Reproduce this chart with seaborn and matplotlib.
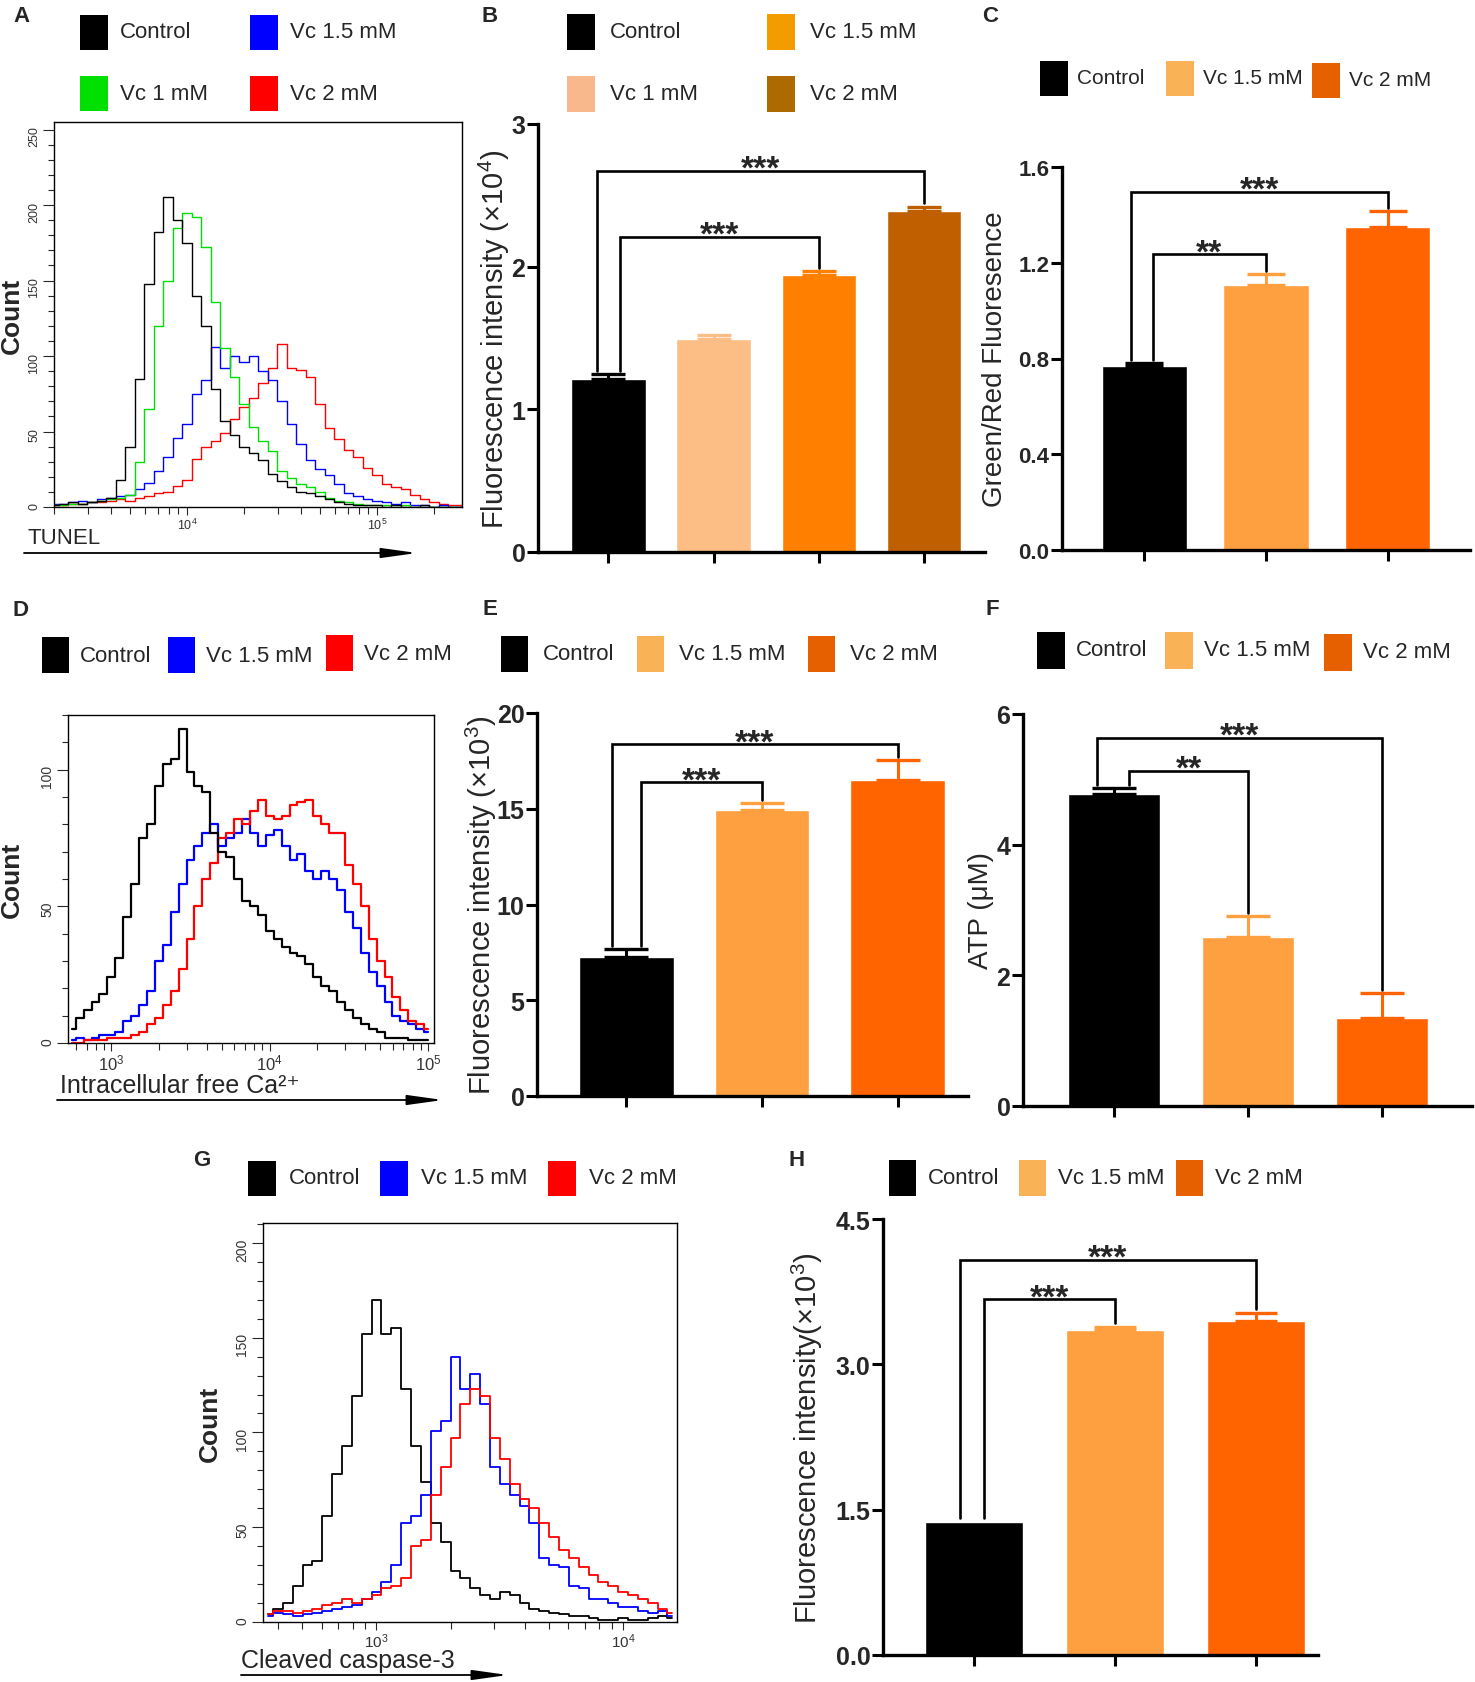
import numpy as np
import pandas as pd
import seaborn as sns
import matplotlib.pyplot as plt
from matplotlib.patches import Rectangle
from matplotlib.ticker import MultipleLocator, LogLocator, NullFormatter

# ---------------- data ----------------
# A: TUNEL flow histograms (log10 channel, counts)
tunel_log = np.round(np.arange(3.30, 5.451, 0.05), 2)
tunel_control = [1, 2, 3, 2, 3, 4, 6, 18, 40, 85,
                 148, 182, 205, 190, 175, 140, 120, 78, 57, 48,
                 40, 36, 31, 22, 17, 13, 10, 9, 7, 5,
                 3, 2, 1, 1, 1, 0, 1, 0, 0, 1,
                 0, 0, 0, 0]
tunel_vc1 = [1, 1, 2, 2, 3, 4, 5, 6, 8, 30,
             65, 120, 150, 185, 195, 192, 172, 136, 105, 86,
             68, 53, 44, 37, 24, 19, 15, 13, 10, 6,
             4, 3, 2, 1, 1, 1, 0, 1, 0, 0,
             0, 0, 0, 0]
tunel_vc15 = [2, 2, 3, 4, 3, 5, 6, 7, 8, 12,
              16, 24, 33, 46, 55, 75, 84, 106, 92, 100,
              96, 100, 90, 84, 70, 55, 42, 31, 25, 21,
              15, 9, 7, 5, 4, 3, 2, 3, 1, 1,
              0, 1, 0, 0]
tunel_vc2 = [1, 1, 2, 2, 3, 3, 4, 5, 4, 6,
             7, 9, 10, 14, 18, 32, 40, 44, 49, 58,
             66, 72, 82, 92, 108, 92, 91, 86, 68, 52,
             45, 38, 33, 26, 21, 15, 13, 12, 8, 5,
             3, 2, 1, 1]

# B: fluorescence intensity (x10^4)
ros_groups = ["Control", "Vc 1 mM", "Vc 1.5 mM", "Vc 2 mM"]
ros_mean = [1.21, 1.49, 1.94, 2.39]
ros_sem = [0.035, 0.03, 0.03, 0.03]

# C: green/red fluorescence
groups3 = ["Control", "Vc 1.5 mM", "Vc 2 mM"]
mmp_mean = [0.77, 1.107, 1.35]
mmp_sem = [0.012, 0.044, 0.067]

# D: intracellular Ca2+ histograms
ca_log = np.round(np.arange(2.75, 5.001, 0.05), 2)
ca_control = [5, 9, 12, 15, 18, 24, 31, 46, 58, 75,
              80, 94, 102, 104, 115, 99, 94, 92, 77, 70,
              68, 60, 52, 50, 47, 41, 38, 35, 33, 32,
              29, 24, 21, 19, 15, 12, 9, 7, 5, 4,
              2, 2, 2, 1, 1, 1]
ca_vc15 = [1, 2, 1, 2, 3, 3, 4, 8, 10, 14,
           19, 30, 36, 48, 58, 67, 72, 77, 80, 72,
           75, 77, 82, 77, 72, 76, 78, 72, 67, 69,
           63, 60, 63, 60, 56, 48, 42, 33, 26, 21,
           15, 10, 8, 7, 5, 4]
ca_vc2 = [0, 0, 1, 1, 1, 2, 2, 2, 3, 4,
          7, 9, 14, 19, 27, 38, 50, 60, 66, 75,
          77, 82, 80, 85, 89, 83, 82, 83, 87, 88,
          89, 83, 80, 77, 77, 65, 58, 50, 38, 30,
          24, 17, 12, 8, 7, 5]

# E: Ca2+ fluorescence intensity (x10^3)
caf_mean = [7.24, 14.94, 16.51]
caf_sem = [0.43, 0.37, 1.03]

# F: ATP (uM)
atp_mean = [4.775, 2.58, 1.35]
atp_sem = [0.085, 0.33, 0.38]

# G: cleaved caspase-3 histograms
casp_log = np.round(np.arange(2.56, 4.201, 0.04), 2)
casp_control = [4, 7, 10, 19, 30, 32, 56, 78, 93, 119,
                152, 170, 152, 155, 123, 93, 74, 52, 42, 27,
                23, 18, 14, 12, 16, 14, 10, 7, 6, 5,
                4, 3, 3, 2, 1, 1, 2, 1, 1, 2,
                3, 2]
casp_vc15 = [3, 5, 4, 3, 4, 5, 6, 7, 8, 9,
             12, 16, 21, 30, 52, 56, 67, 101, 106, 140,
             123, 131, 115, 82, 73, 67, 61, 52, 34, 30,
             29, 19, 18, 12, 12, 10, 8, 8, 6, 5,
             6, 3]
casp_vc2 = [4, 6, 6, 5, 6, 7, 9, 10, 12, 10,
            12, 14, 18, 19, 23, 40, 43, 67, 82, 97,
            115, 123, 119, 97, 86, 73, 65, 60, 52, 45,
            38, 34, 29, 25, 21, 19, 16, 14, 12, 10,
            7, 5]

# H: caspase-3 fluorescence intensity (x10^3)
cf_mean = [1.373, 3.35, 3.45]
cf_sem = [0.0, 0.04, 0.08]

# ---------------- style ----------------
sns.set_theme(style="ticks")
plt.rcParams["font.family"] = ["Liberation Sans", "DejaVu Sans"]
plt.rcParams["mathtext.default"] = "regular"
SANS = ["Liberation Sans", "DejaVu Sans"]

BLACK, GREEN, BLUE, RED = "#000000", "#00E000", "#0000FF", "#FF0000"
bar_b = ["#000000", "#FDBE86", "#FF8000", "#C05F00"]
leg_b = ["#000000", "#F8B88B", "#F29C00", "#AD6A00"]
bar3 = ["#000000", "#FFA040", "#FF6400"]
leg3 = ["#000000", "#F9B356", "#E66000"]

W, H = 1475, 1683
fig = plt.figure(figsize=(W / 100, H / 100), dpi=100)


def fx(x):
    return x / W


def fy(y):
    return 1 - y / H


def axes_px(left, top, right, bottom):
    return fig.add_axes([fx(left), fy(bottom), (right - left) / W, (bottom - top) / H])


def legend(entries, sq=(28, 35), size=16, gap=12):
    for x, y, color, label in entries:
        fig.patches.append(Rectangle((fx(x), fy(y + sq[1] / 2)), sq[0] / W, sq[1] / H,
                                     transform=fig.transFigure, facecolor=color,
                                     edgecolor="none"))
        fig.text(fx(x + sq[0] + gap), fy(y), label, fontsize=size, family=SANS,
                 va="center", ha="left")


def panel_letter(x, y, s):
    fig.text(fx(x), fy(y), s, fontsize=16, fontweight="bold", ha="center", va="center")


def axis_arrow(x1, x2, y):
    fig.add_artist(plt.Annotation("", xy=(fx(x2), fy(y)), xytext=(fx(x1), fy(y)),
                                  xycoords="figure fraction", textcoords="figure fraction",
                                  arrowprops=dict(arrowstyle="-|>,head_length=1.8,head_width=0.25",
                                                  color="black", lw=1.3, shrinkA=0, shrinkB=0)))


def histogram(rect, log_x, curves, xlog, ymax, label_right, ytick_size, xtick_size, lw):
    left, top, right, bottom = rect
    ax = axes_px(left, top, right, bottom)
    ax.set_xscale("log")
    x = 10 ** np.asarray(log_x)
    for counts, color in curves:
        sns.lineplot(x=x, y=counts, color=color, lw=lw, drawstyle="steps-mid",
                     ax=ax, legend=False)
    ax.set_xlim(10 ** xlog[0], 10 ** xlog[1])
    ax.set_ylim(0, ymax)
    ax.yaxis.set_major_locator(MultipleLocator(50))
    ax.yaxis.set_minor_locator(MultipleLocator(10))
    ax.xaxis.set_major_locator(LogLocator(base=10))
    ax.xaxis.set_minor_locator(LogLocator(base=10, subs=np.arange(2, 10)))
    ax.xaxis.set_minor_formatter(NullFormatter())
    for s in ax.spines.values():
        s.set_linewidth(1.0)
        s.set_color("black")
    ax.tick_params(axis="y", which="major", direction="out", length=8, width=0.8,
                   labelrotation=90, labelsize=ytick_size, pad=2, labelcolor="#333333")
    ax.tick_params(axis="y", which="minor", direction="out", length=4, width=0.8)
    ax.tick_params(axis="x", which="major", direction="out", length=6, width=0.8,
                   labelsize=xtick_size, pad=1, labelcolor="#333333")
    ax.tick_params(axis="x", which="minor", direction="out", length=5, width=0.8)
    ax.set_xlabel("")
    ax.set_ylabel("Count", fontsize=19, fontweight="bold")
    ax.yaxis.set_label_coords((label_right - left) / (right - left), 0.5)
    return ax


def bar_panel(rect, groups, means, sems, colors, ymax, ystep, fmt, ylabel, label_right,
              margins, width, capsize, brackets, leg_offsets, label_size=21, tick_size=18):
    left, top, right, bottom = rect
    ax = axes_px(left, top, right, bottom)
    df = pd.DataFrame({"group": groups, "value": means})
    sns.barplot(data=df, x="group", y="value", hue="group", palette=colors, width=width,
                saturation=1, legend=False, errorbar=None, ax=ax, zorder=2)
    for i, (m, s, c) in enumerate(zip(means, sems, colors)):
        if s > 0:
            ax.errorbar(i, m, yerr=[[0], [s]], fmt="none", ecolor=c, elinewidth=2.2,
                        capsize=capsize, capthick=2.4, zorder=3)
    pad = 0.008 * ymax
    for (i, j, level, stars), off in zip(brackets, leg_offsets):
        xi = i + off
        ax.plot([xi, xi, j, j],
                [means[i] + sems[i] + pad, level, level, means[j] + sems[j] + pad],
                color="black", lw=1.9, solid_joinstyle="miter", zorder=4)
        ax.annotate(stars, xy=((xi + j) / 2, level), xytext=(0, -5),
                    textcoords="offset points", ha="center", va="baseline",
                    fontsize=24, fontweight="bold")
    n = len(groups)
    ax.set_xlim(-margins[0], n - 1 + margins[1])
    ax.set_ylim(0, ymax)
    ticks = np.arange(0, ymax + ystep / 2, ystep)
    ax.set_yticks(ticks, labels=[fmt.format(t) for t in ticks], fontsize=tick_size,
                  fontweight="bold", family=SANS)
    ax.set_xticks(range(n), labels=[""] * n)
    ax.tick_params(axis="both", direction="out", length=8, width=2.2, color="black", pad=1)
    sns.despine(ax=ax)
    for s in ("left", "bottom"):
        ax.spines[s].set_linewidth(2.4)
        ax.spines[s].set_color("black")
    ax.set_xlabel("")
    ax.set_ylabel(ylabel, fontsize=label_size)
    ax.yaxis.set_label_coords((label_right - left) / (right - left), 0.5)
    return ax


# ---------------- A ----------------
panel_letter(21, 16, "A")
legend([(80, 33, BLACK, "Control"), (250, 33, BLUE, "Vc 1.5 mM"),
        (80, 94, GREEN, "Vc 1 mM"), (250, 94, RED, "Vc 2 mM")])
histogram((54, 123, 462, 508), tunel_log,
          [(tunel_vc2, RED), (tunel_vc15, BLUE), (tunel_vc1, GREEN), (tunel_control, BLACK)],
          (3.30, 5.447), 255, 24, 9, 9, 1.0)
fig.text(fx(27), fy(538), "TUNEL", fontsize=16, va="center", ha="left")
axis_arrow(24, 417, 554)

# ---------------- B ----------------
panel_letter(490, 16, "B")
legend([(567, 33, leg_b[0], "Control"), (767, 33, leg_b[2], "Vc 1.5 mM"),
        (567, 95, leg_b[1], "Vc 1 mM"), (767, 95, leg_b[3], "Vc 2 mM")], sq=(28, 36), gap=15)
bar_panel((538, 125, 985, 553), ros_groups, ros_mean, ros_sem, bar_b, 3, 1, "{:.0f}",
          "Fluorescence intensity (×10$^{4}$)", 512, (0.67, 0.58), 0.707, 12,
          [(0, 2, 2.21, "***"), (0, 3, 2.67, "***")], [0.11, -0.11])

# ---------------- C ----------------
panel_letter(990, 16, "C")
legend([(1040, 79, leg3[0], "Control"), (1166, 79, leg3[1], "Vc 1.5 mM"),
        (1312, 81, leg3[2], "Vc 2 mM")], sq=(28, 35), size=15, gap=9)
bar_panel((1062, 168, 1470, 551), groups3, mmp_mean, mmp_sem, bar3, 1.6, 0.4, "{:.1f}",
          "Green/Red Fluoresence", 1008, (0.675, 0.675), 0.70, 14,
          [(0, 1, 1.235, "**"), (0, 2, 1.496, "***")], [0.07, -0.11],
          label_size=20, tick_size=16)

# ---------------- D ----------------
panel_letter(21, 611, "D")
legend([(42, 656, BLACK, "Control"), (168, 656, BLUE, "Vc 1.5 mM"),
        (326, 654, RED, "Vc 2 mM")], sq=(27, 36), gap=11)
histogram((68, 716, 434, 1044), ca_log,
          [(ca_vc15, BLUE), (ca_vc2, RED), (ca_control, BLACK)],
          (2.727, 5.038), 120, 24, 10, 12, 1.6)
fig.text(fx(60), fy(1086), "Intracellular free Ca²⁺", fontsize=18, va="center", ha="left",
         family=SANS)
axis_arrow(57, 443, 1101)

# ---------------- E ----------------
panel_letter(490, 610, "E")
legend([(501, 655, leg3[0], "Control"), (637, 655, leg3[1], "Vc 1.5 mM"),
        (808, 655, leg3[2], "Vc 2 mM")], sq=(27, 36), gap=15)
bar_panel((537, 714, 968, 1097), groups3, caf_mean, caf_sem, bar3, 20, 5, "{:.0f}",
          "Fluorescence intensity (×10$^{3}$)", 499, (0.66, 0.52), 0.695, 16,
          [(0, 1, 16.39, "***"), (0, 2, 18.36, "***")], [0.11, -0.11])

# ---------------- F ----------------
panel_letter(992, 610, "F")
legend([(1037, 651, leg3[0], "Control"), (1165, 651, leg3[1], "Vc 1.5 mM"),
        (1324, 653, leg3[2], "Vc 2 mM")], sq=(28, 37), gap=11)
bar_panel((1023, 715, 1472, 1107), groups3, atp_mean, atp_sem, bar3, 6, 2, "{:.0f}",
          "ATP (μM)", 994, (0.68, 0.67), 0.69, 16,
          [(0, 1, 5.13, "**"), (0, 2, 5.64, "***")], [0.11, -0.13], label_size=20)

# ---------------- G ----------------
panel_letter(202, 1160, "G")
legend([(248, 1179, BLACK, "Control"), (380, 1179, BLUE, "Vc 1.5 mM"),
        (548, 1179, RED, "Vc 2 mM")], sq=(28, 35), gap=13)
histogram((263, 1224, 677, 1623), casp_log,
          [(casp_control, BLACK), (casp_vc15, BLUE), (casp_vc2, RED)],
          (2.54, 4.219), 210.5, 222, 10, 11, 1.3)
fig.text(fx(241), fy(1661), "Cleaved caspase-3", fontsize=18, va="center", ha="left")
axis_arrow(241, 508, 1676)

# ---------------- H ----------------
panel_letter(797, 1160, "H")
legend([(889, 1179, leg3[0], "Control"), (1019, 1179, leg3[1], "Vc 1.5 mM"),
        (1176, 1179, leg3[2], "Vc 2 mM")], sq=(27, 36), gap=12)
bar_panel((883, 1220, 1318, 1656), groups3, cf_mean, cf_sem, bar3, 4.5, 1.5, "{:.1f}",
          "Fluorescence intensity(×10$^{3}$)", 825, (0.645, 0.44), 0.70, 15,
          [(0, 1, 3.67, "***"), (0, 2, 4.08, "***")], [0.07, -0.10])

fig.savefig("out.png", dpi=100, facecolor="white")
